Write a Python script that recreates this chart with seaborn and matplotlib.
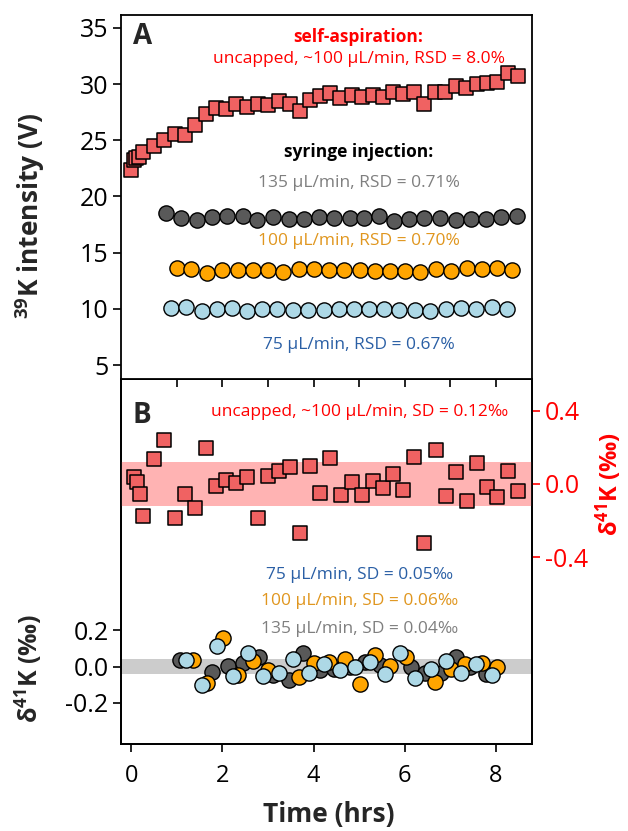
import numpy as np
import pandas as pd
import matplotlib
matplotlib.use("Agg")
import matplotlib.pyplot as plt
import seaborn as sns

sns.set_style("ticks")
plt.rcParams['font.family'] = ['Open Sans', 'DejaVu Sans']
plt.rcParams['mathtext.fontset'] = 'custom'
plt.rcParams['mathtext.rm'] = 'Open Sans'
plt.rcParams['mathtext.bf'] = 'Open Sans:bold'

# ---------------- data ----------------
# Panel A: self-aspiration (squares)
sa_time = [0.00, 0.05, 0.10, 0.16, 0.25, 0.49, 0.71, 0.95, 1.18, 1.40, 1.64, 1.86, 2.08, 2.30,
           2.54, 2.77, 3.00, 3.24, 3.47, 3.69, 3.93, 4.14, 4.36, 4.58, 4.84, 5.07, 5.30, 5.52,
           5.75, 5.97, 6.21, 6.43, 6.67, 6.89, 7.13, 7.35, 7.58, 7.80, 8.03, 8.26, 8.49]
sa_int = [22.37, 23.25, 23.40, 23.55, 24.00, 24.53, 25.04, 25.57, 25.48, 26.34, 27.35, 27.85, 27.76, 28.24,
          28.00, 28.24, 28.15, 28.53, 28.21, 27.64, 28.59, 28.95, 29.24, 28.74, 29.04, 28.83, 29.04, 28.83,
          29.33, 29.13, 29.31, 28.24, 29.28, 29.31, 29.84, 29.63, 30.02, 30.13, 30.22, 31.02, 30.73]

# Panel A: syringe injection intensities
s135_time = [0.77, 1.09, 1.43, 1.77, 2.10, 2.45, 2.76, 3.11, 3.45, 3.78, 4.12, 4.45, 4.79, 5.11,
             5.44, 5.77, 6.09, 6.42, 6.78, 7.12, 7.45, 7.78, 8.10, 8.46]
s135_int = [18.51, 18.07, 17.92, 18.16, 18.27, 18.27, 17.92, 18.16, 17.98, 17.98, 18.16, 18.07, 18.07, 18.07,
            18.22, 17.86, 17.98, 18.07, 18.07, 17.92, 17.98, 17.98, 18.16, 18.22]
s100_time = [1.00, 1.32, 1.66, 2.00, 2.33, 2.67, 2.99, 3.33, 3.67, 4.00, 4.33, 4.67, 5.01, 5.35,
             5.68, 6.01, 6.34, 6.68, 7.01, 7.36, 7.69, 8.02, 8.36]
s100_int = [13.62, 13.53, 13.23, 13.47, 13.47, 13.47, 13.47, 13.32, 13.53, 13.53, 13.47, 13.47, 13.47, 13.38,
            13.38, 13.38, 13.32, 13.53, 13.38, 13.62, 13.53, 13.62, 13.47]
s75_time = [0.88, 1.21, 1.55, 1.88, 2.21, 2.54, 2.87, 3.20, 3.54, 3.88, 4.22, 4.55, 4.88, 5.22,
            5.55, 5.88, 6.23, 6.56, 6.90, 7.23, 7.57, 7.91, 8.24]
s75_int = [10.06, 10.15, 9.85, 9.97, 10.06, 9.85, 9.97, 9.97, 9.91, 9.91, 9.91, 9.97, 9.97, 9.97,
           9.97, 9.91, 9.91, 9.85, 9.97, 10.06, 9.97, 10.15, 9.97]

# Panel B: self-aspiration delta41K
sad_time = [0.05, 0.12, 0.20, 0.26, 0.49, 0.71, 0.95, 1.18, 1.40, 1.64, 1.86, 2.08, 2.30, 2.54,
            2.77, 3.00, 3.24, 3.47, 3.69, 3.93, 4.14, 4.36, 4.61, 4.84, 5.07, 5.30, 5.52, 5.75,
            5.97, 6.21, 6.43, 6.68, 6.90, 7.13, 7.36, 7.58, 7.80, 8.03, 8.26, 8.49]
sad_d = [0.037, 0.013, -0.055, -0.175, 0.135, 0.240, -0.187, -0.055, -0.133, 0.198, -0.009, 0.022, 0.004, 0.040,
         -0.184, 0.044, 0.073, 0.095, -0.265, 0.098, -0.051, 0.144, -0.060, 0.009, -0.060, 0.018, -0.020, 0.055,
         -0.033, 0.145, -0.320, 0.185, -0.064, 0.067, -0.091, 0.113, -0.015, -0.073, 0.071, -0.037]

# Panel B: syringe injection delta41K
d135_time = [1.06, 1.77, 2.11, 2.45, 2.79, 3.11, 3.45, 3.76, 4.13, 4.44, 4.79, 5.13, 5.46, 6.14,
             6.45, 6.80, 7.13, 7.43, 7.79]
d135_d = [0.037, -0.028, 0.004, 0.022, 0.055, -0.046, -0.073, 0.077, -0.018, -0.015, 0.000, 0.028, 0.009, 0.000,
          -0.033, -0.037, 0.051, 0.000, -0.040]
d100_time = [1.35, 1.67, 2.01, 2.33, 2.68, 2.99, 3.67, 4.01, 4.33, 4.68, 5.01, 5.35, 5.68, 6.02,
             6.67, 7.01, 7.32, 7.69, 8.02]
d100_d = [0.037, -0.088, 0.156, -0.046, 0.033, -0.018, -0.059, 0.018, 0.028, 0.040, -0.095, 0.064, 0.004, 0.055,
          -0.083, -0.015, 0.015, 0.022, -0.004]
d75_time = [1.21, 1.55, 1.88, 2.22, 2.55, 2.89, 3.23, 3.55, 3.90, 4.23, 4.57, 4.90, 5.24, 5.57,
            5.90, 6.23, 6.57, 6.90, 7.23, 7.57, 7.91]
d75_d = [0.037, -0.101, 0.114, -0.051, 0.077, -0.051, -0.033, 0.040, -0.037, 0.015, -0.018, 0.000, 0.028, -0.040,
         0.073, -0.064, -0.015, 0.033, -0.033, 0.015, -0.046]

sd_self = 0.12
sd_135 = 0.04

# ---------------- style ----------------
RED = "#FF0000"
SQ = "#F06262"
C135 = "#595959"
C100 = "#FFA500"
C75 = "#ADD8E6"
T135 = "#7F7F7F"
T100 = "#E0961E"
T75 = "#2A5FA5"
XLIM = (-0.226, 8.79)
ANN = 12.5

fig = plt.figure(figsize=(6.28, 8.31), dpi=100)
axA = fig.add_axes([0.1927, 0.5436, 0.6545, 0.4384])
axB = fig.add_axes([0.1927, 0.1043, 0.6545, 0.4393])
axBr = axB.twinx()
axA.set_zorder(5)

sq_kw = dict(marker="s", s=95, edgecolor="black", linewidth=1.1)
ci_kw = dict(marker="o", s=120, edgecolor="black", linewidth=1.0)

# Panel A
sns.scatterplot(x=sa_time, y=sa_int, ax=axA, color=SQ, zorder=3, **sq_kw)
sns.scatterplot(x=s135_time, y=s135_int, ax=axA, color=C135, zorder=3, **ci_kw)
sns.scatterplot(x=s100_time, y=s100_int, ax=axA, color=C100, zorder=3, **ci_kw)
sns.scatterplot(x=s75_time, y=s75_int, ax=axA, color=C75, zorder=3, **ci_kw)
axA.set_xlim(*XLIM)
axA.set_ylim(3.73, 36.16)
axA.set_yticks([5, 10, 15, 20, 25, 30, 35])
axA.set_xticks(range(1, 9))
axA.set_xticklabels([])
axA.tick_params(axis="both", direction="out", length=6, width=1.2, colors="black", labelsize=18, pad=3)
axA.set_ylabel("$\\mathbf{^{39}}$K intensity (V)", fontsize=19, fontweight="bold")
axA.yaxis.set_label_coords(-0.18, 0.448)
for sp in axA.spines.values():
    sp.set_linewidth(1.3)
    sp.set_color("black")

axA.text(0.029, 0.94, "A", transform=axA.transAxes, fontsize=20, fontweight="bold", va="center")
cx = 0.578
axA.text(cx, 0.94, "self-aspiration:", transform=axA.transAxes, color=RED, fontsize=ANN,
         fontweight="bold", ha="center", va="center")
axA.text(cx, 0.879, "uncapped, ~100 µL/min, RSD = 8.0%", transform=axA.transAxes, color=RED,
         fontsize=ANN, ha="center", va="center")
axA.text(cx, 0.624, "syringe injection:", transform=axA.transAxes, color="black", fontsize=ANN,
         fontweight="bold", ha="center", va="center")
axA.text(cx, 0.539, "135 µL/min, RSD = 0.71%", transform=axA.transAxes, color=T135,
         fontsize=ANN, ha="center", va="center")
axA.text(cx, 0.38, "100 µL/min, RSD = 0.70%", transform=axA.transAxes, color=T100,
         fontsize=ANN, ha="center", va="center")
axA.text(cx, 0.095, "75 µL/min, RSD = 0.67%", transform=axA.transAxes, color=T75,
         fontsize=ANN, ha="center", va="center")

# Panel B - right (self aspiration)
axBr.axhspan(-sd_self, sd_self, color="#FFB3B3", lw=0, zorder=1)
sns.scatterplot(x=sad_time, y=sad_d, ax=axBr, color=SQ, zorder=3, **sq_kw)
axBr.set_ylim(-1.42, 0.571)
axBr.set_yticks([-0.4, 0.0, 0.4])
axBr.set_yticklabels(["-0.4", "0.0", "0.4"])
axBr.tick_params(axis="y", direction="out", length=6, width=1.2, colors=RED, labelsize=18, pad=3)
axBr.set_ylabel("δ$\\mathbf{^{41}}$K (‰)", color=RED, fontsize=17, fontweight="bold")
axBr.yaxis.set_label_coords(1.15, 0.713)

# Panel B - left (syringe)
axB.axhspan(-sd_135, sd_135, color="#CCCCCC", lw=0, zorder=1)
sns.scatterplot(x=d135_time, y=d135_d, ax=axB, color=C135, zorder=3, **ci_kw)
sns.scatterplot(x=d100_time, y=d100_d, ax=axB, color=C100, zorder=3, **ci_kw)
sns.scatterplot(x=d75_time, y=d75_d, ax=axB, color=C75, zorder=3, **ci_kw)
axB.set_xlim(*XLIM)
axB.set_ylim(-0.428, 1.583)
axB.set_yticks([-0.2, 0.0, 0.2])
axB.set_yticklabels(["-0.2", "0.0", "0.2"])
axB.set_xticks([0, 2, 4, 6, 8])
axB.tick_params(axis="both", direction="out", length=6, width=1.2, colors="black", labelsize=18, pad=3)
axB.tick_params(axis="x", labelsize=17, pad=8)
axB.set_ylabel("δ$\\mathbf{^{41}}$K (‰)", fontsize=18, fontweight="bold")
axB.yaxis.set_label_coords(-0.185, 0.209)
axB.set_xlabel("Time (hrs)", fontsize=19, fontweight="bold")
axB.xaxis.set_label_coords(0.506, -0.155)
for ax in (axB, axBr):
    for sp in ax.spines.values():
        sp.set_linewidth(1.3)
        sp.set_color("black")

axB.text(0.029, 0.9, "B", transform=axB.transAxes, fontsize=20, fontweight="bold", va="center")
axB.text(0.58, 0.911, "uncapped, ~100 µL/min, SD = 0.12‰", transform=axB.transAxes, color=RED,
         fontsize=ANN, ha="center", va="center")
axB.text(0.58, 0.465, "75 µL/min, SD = 0.05‰", transform=axB.transAxes, color=T75,
         fontsize=ANN, ha="center", va="center")
axB.text(0.58, 0.392, "100 µL/min, SD = 0.06‰", transform=axB.transAxes, color=T100,
         fontsize=ANN, ha="center", va="center")
axB.text(0.58, 0.316, "135 µL/min, SD = 0.04‰", transform=axB.transAxes, color=T135,
         fontsize=ANN, ha="center", va="center")

fig.savefig("out.png", dpi=100)
